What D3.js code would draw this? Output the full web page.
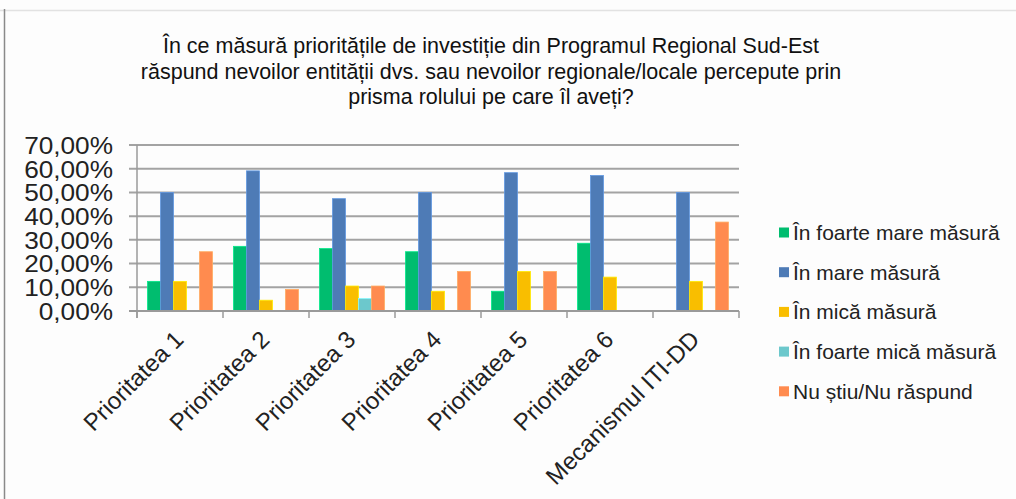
<!DOCTYPE html>
<html>
<head>
<meta charset="utf-8">
<script src="https://cdn.jsdelivr.net/npm/d3@7"></script>
<style>
  body { margin: 0; background: #fff; }
  svg { display: block; font-family: "Liberation Sans", Arial, sans-serif; }
</style>
</head>
<body>
<div></div>
<script>
// categories, series and values (shares, 0..1)
var categories = ["Prioritatea 1", "Prioritatea 2", "Prioritatea 3", "Prioritatea 4",
                  "Prioritatea 5", "Prioritatea 6", "Mecanismul ITI-DD"];
var seriesNames = ["În foarte mare măsură", "În mare măsură", "În mică măsură",
                   "În foarte mică măsură", "Nu știu/Nu răspund"];
var foarteMare = [0.125, 0.2727, 0.2632, 0.25, 0.0833, 0.2857, 0];
var mare       = [0.50, 0.5909, 0.4737, 0.50, 0.5833, 0.5714, 0.50];
var mica       = [0.125, 0.0455, 0.1053, 0.0833, 0.1667, 0.1429, 0.125];
var foarteMica = [0, 0, 0.0526, 0, 0, 0, 0];
var nuStiu     = [0.25, 0.0909, 0.1053, 0.1667, 0.1667, 0, 0.375];
var yTicks = [0, 0.1, 0.2, 0.3, 0.4, 0.5, 0.6, 0.7];
var titleLines = ["În ce măsură prioritățile de investiție din Programul Regional Sud-Est",
                  "răspund nevoilor entității dvs. sau nevoilor regionale/locale percepute prin",
                  "prisma rolului pe care îl aveți?"];

var colors = ["#00bd6f", "#4e7bb6", "#f9be00", "#6cc8cc", "#ff8b4f"];
var values = [foarteMare, mare, mica, foarteMica, nuStiu];

var W = 1016, H = 499;
var svg = d3.select("div").append("svg").attr("width", W).attr("height", H);

svg.append("rect").attr("width", W).attr("height", H).attr("fill", "#fdfdfd");
// frame of the embedded chart
svg.append("line").attr("x1", 0).attr("x2", W).attr("y1", 10.5).attr("y2", 10.5)
  .attr("stroke", "#e2e2e2").attr("stroke-width", 1.5);
svg.append("line").attr("x1", 4.5).attr("x2", 4.5).attr("y1", 9).attr("y2", H)
  .attr("stroke", "#8a8a8a").attr("stroke-width", 1.5);

// title
svg.append("g").selectAll("text")
  .data(titleLines)
  .enter()
  .append("text")
  .attr("x", 491)
  .attr("y", function(d, i) { return 53 + i * 25.5; })
  .attr("text-anchor", "middle")
  .attr("font-size", 21.5)
  .attr("fill", "#111")
  .text(function(d) { return d; });

var x = d3.scaleBand().domain(categories).range([137, 739]).paddingInner(0).paddingOuter(0);
var x1 = d3.scaleBand().domain(d3.range(seriesNames.length)).range([0, x.bandwidth()])
  .paddingInner(0).paddingOuter(0.81);
var y = d3.scaleLinear().domain([0, 0.7]).range([311, 145]);

// gridlines
svg.append("g").selectAll("line")
  .data(yTicks)
  .enter()
  .append("line")
  .attr("x1", 129).attr("x2", 739)
  .attr("y1", function(d) { return y(d); })
  .attr("y2", function(d) { return y(d); })
  .attr("stroke", function(d) { return d === 0 ? "#999" : "#a3a3a3"; })
  .attr("stroke-width", 2);

// y labels (slightly wide glyphs, as in the source)
svg.append("g").selectAll("text")
  .data(yTicks)
  .enter()
  .append("text")
  .attr("transform", function(d) { return "translate(113," + y(d) + ") scale(1.07,1)"; })
  .attr("dy", "0.36em")
  .attr("text-anchor", "end")
  .attr("font-size", 24.5)
  .attr("fill", "#222")
  .text(function(d) { return d3.format(".2f")(d * 100).replace(".", ",") + "%"; });

// bars
values.forEach(function(vals, s) {
  svg.append("g").selectAll("rect")
    .data(vals)
    .enter()
    .append("rect")
    .attr("x", function(d, i) { return x(categories[i]) + x1(s); })
    .attr("width", x1.bandwidth())
    .attr("y", function(d) { return y(d); })
    .attr("height", function(d) { return y(0) - y(d); })
    .attr("fill", colors[s])
    .attr("stroke", d3.color(colors[s]).brighter(0.6))
    .attr("stroke-width", 0.8)
    .attr("display", function(d) { return d > 0 ? null : "none"; });
});

// axes lines and ticks
svg.append("line").attr("x1", 137).attr("x2", 137).attr("y1", 145).attr("y2", 318)
  .attr("stroke", "#9a9a9a").attr("stroke-width", 1.5);
svg.append("line").attr("x1", 137).attr("x2", 739).attr("y1", 311).attr("y2", 311)
  .attr("stroke", "#9a9a9a").attr("stroke-width", 2);
var bounds = categories.map(function(c) { return x(c); }).concat([x.range()[1]]);
svg.append("g").selectAll("line")
  .data(bounds)
  .enter()
  .append("line")
  .attr("x1", function(d) { return d; }).attr("x2", function(d) { return d; })
  .attr("y1", 311).attr("y2", 318)
  .attr("stroke", "#9a9a9a").attr("stroke-width", 1.5);

// x labels
svg.append("g").selectAll("text")
  .data(categories)
  .enter()
  .append("text")
  .attr("transform", function(d) {
    return "translate(" + (x(d) + x.bandwidth() / 2 + 5) + ",341) rotate(-45)";
  })
  .attr("text-anchor", "end")
  .attr("font-size", 24)
  .attr("fill", "#222")
  .text(function(d) { return d; });

// legend
var legend = svg.append("g").selectAll("g")
  .data(seriesNames)
  .enter()
  .append("g")
  .attr("transform", function(d, i) { return "translate(779," + (232.5 + i * 39.7) + ")"; });
legend.append("rect")
  .attr("x", 0).attr("y", -5).attr("width", 10).attr("height", 10)
  .attr("fill", function(d, i) { return colors[i]; });
legend.append("text")
  .attr("x", 14).attr("dy", "0.36em")
  .attr("font-size", 21)
  .attr("fill", "#222")
  .text(function(d) { return d; });
</script>
</body>
</html>
